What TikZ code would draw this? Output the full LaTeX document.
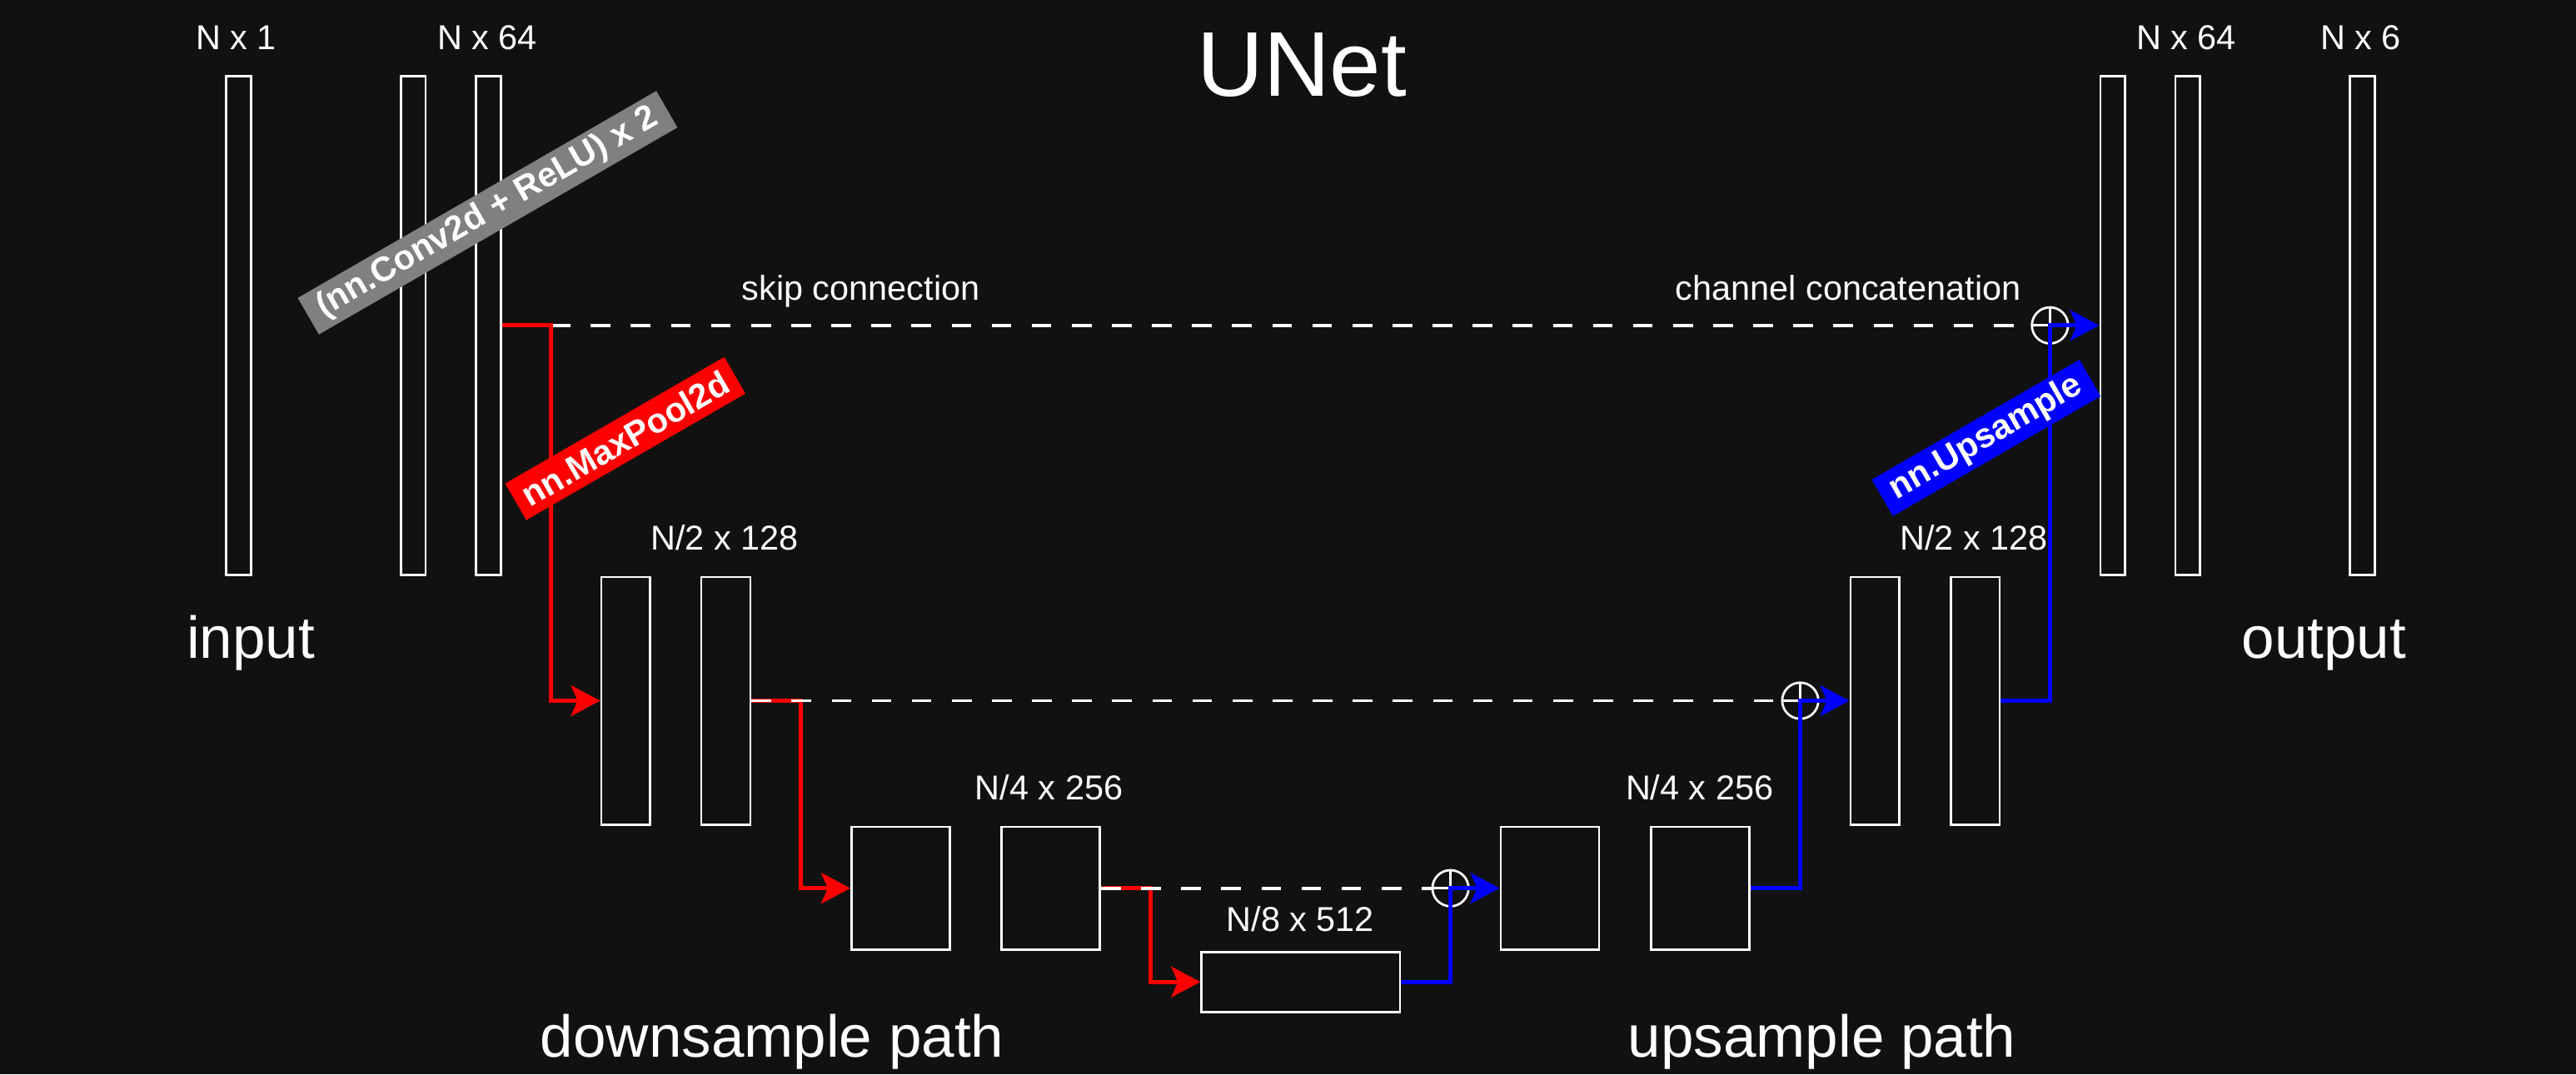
\documentclass[tikz,border=0pt]{standalone}
\usepackage{fontspec}
\setmainfont{Liberation Sans}
\usetikzlibrary{arrows.meta}
\definecolor{bg}{HTML}{111111}
\definecolor{lblgray}{HTML}{808080}
\begin{document}
\begin{tikzpicture}[x=1pt,y=1pt,
  fmap/.style={draw=white, line width=1.4pt, rectangle, inner sep=0pt},
  lbl/.style={text=white, font=\fontsize{21}{25}\selectfont, inner sep=0pt, anchor=base},
  big/.style={text=white, font=\fontsize{36}{42}\selectfont, inner sep=0pt, anchor=base},
  tag/.style={rotate=30, text=white, font=\bfseries\fontsize{21}{25}\selectfont, inner xsep=2pt, inner ysep=0pt, minimum height=25.7pt},
  tipa/.style={-{Stealth[length=17.7pt,width=18.6pt,inset=4pt]}},
  downline/.style={draw=red, line width=2.6pt, tipa},
  upline/.style={draw=blue, line width=2.6pt, tipa},
  skipline/.style={draw=white, line width=2pt, dash pattern=on 12pt off 12.4pt},
  catnode/.style={circle, draw=white, line width=1.4pt, fill=bg, minimum size=22pt, inner sep=0pt, outer sep=0pt},
  crossline/.style={draw=white, line width=1.4pt}
]
\fill[bg] (0,0) rectangle (1568,-654);
\useasboundingbox (0,0) rectangle (1568,-654);

% level 1
\node[fmap, minimum width=15pt, minimum height=303.6pt] (in) at (145.3,-198.1) {};
\node[fmap, minimum width=15pt, minimum height=303.6pt] (a1) at (251.6,-198.1) {};
\node[fmap, minimum width=15pt, minimum height=303.6pt] (a2) at (297.4,-198.1) {};
\node[fmap, minimum width=15pt, minimum height=303.6pt] (b1) at (1286,-198.1) {};
\node[fmap, minimum width=15pt, minimum height=303.6pt] (b2) at (1331.6,-198.1) {};
\node[fmap, minimum width=15pt, minimum height=303.6pt] (out) at (1438,-198.1) {};
% level 2
\node[fmap, minimum width=29.8pt, minimum height=150.7pt] (d2a) at (380.9,-426.6) {};
\node[fmap, minimum width=29.8pt, minimum height=150.7pt] (d2b) at (441.8,-426.6) {};
\node[fmap, minimum width=29.8pt, minimum height=150.7pt] (u2a) at (1141.3,-426.6) {};
\node[fmap, minimum width=29.8pt, minimum height=150.7pt] (u2b) at (1202.3,-426.6) {};
% level 3
\node[fmap, minimum width=59.8pt, minimum height=74.7pt] (d3a) at (548.2,-540.75) {};
\node[fmap, minimum width=59.8pt, minimum height=74.7pt] (d3b) at (639.6,-540.75) {};
\node[fmap, minimum width=59.8pt, minimum height=74.7pt] (u3a) at (943.4,-540.75) {};
\node[fmap, minimum width=59.8pt, minimum height=74.7pt] (u3b) at (1034.8,-540.75) {};
% bottleneck
\node[fmap, minimum width=120.8pt, minimum height=36.6pt] (bn) at (791.8,-597.8) {};

% corners
\coordinate (k1) at (335.2,-198.1);
\coordinate (k2) at (487.4,-426.6);
\coordinate (k3) at (700.3,-540.75);

% concatenation circles
\node[catnode] (p1) at (1247.8,-198.1) {};
\node[catnode] (p2) at (1095.8,-426.6) {};
\node[catnode] (p3) at (882.9,-540.75) {};
\foreach \p in {p1,p2,p3}{
  \draw[crossline] (\p.north) -- (\p.south) (\p.west) -- (\p.east);
}

% skip + downsample
\draw[skipline] (k1) -- (p1.west);
\draw[downline] (a2.east) -- (k1) |- (d2a.west);
\draw[downline] (d2b.east) -- (k2) |- (d3a.west);
\draw[downline] (d3b.east) -- (k3) |- (bn.west);
\draw[skipline] (d2b.east) -- (p2.west);
\draw[skipline] (d3b.east) -- (p3.west);

% upsample
\draw[upline] (bn.east) -| (p3.center) -- (u3a.west);
\draw[upline] (u3b.east) -| (p2.center) -- (u2a.west);
\draw[upline] (u2b.east) -| (p1.center) -- (b1.west);

% labels
\node[lbl] (tn1) at (143.8,-30.4) {N x 1};
\node[lbl] (tn64a) at (296.6,-30.4) {N x 64};
\node[lbl] (tn64b) at (1330.7,-30.4) {N x 64};
\node[lbl] (tn6) at (1437,-30.4) {N x 6};
\node[lbl] (td2) at (441,-334.6) {N/2 x 128};
\node[lbl] (tu2) at (1201.5,-334.6) {N/2 x 128};
\node[lbl] (td3) at (638.5,-487) {N/4 x 256};
\node[lbl] (tu3) at (1034.5,-487) {N/4 x 256};
\node[lbl] (tbn) at (791.5,-567) {N/8 x 512};
\node[lbl] (tskip) at (524,-182.5) {skip connection};
\node[lbl] (tcat) at (1125,-182.5) {channel concatenation};
\node[big] (tin) at (152.6,-400.5) {input};
\node[big] (tout) at (1414.5,-400.5) {output};
\node[big] (tdown) at (470,-643.8) {downsample path};
\node[big] (tup) at (1109,-643.8) {upsample path};
\node[text=white, font=\fontsize{56}{64}\selectfont, inner sep=0pt, anchor=base] (title) at (792.4,-58.3) {UNet};

% rotated tags
\node[tag, fill=lblgray, minimum width=252pt] (conv) at (296.8,-129.5) {(nn.Conv2d + ReLU) x 2};
\node[tag, fill=red, minimum width=154pt] (pool) at (380.6,-267) {nn.MaxPool2d};
\node[tag, fill=blue, minimum width=146pt] (ups) at (1209,-266.6) {nn.Upsample};
\end{tikzpicture}
\end{document}
